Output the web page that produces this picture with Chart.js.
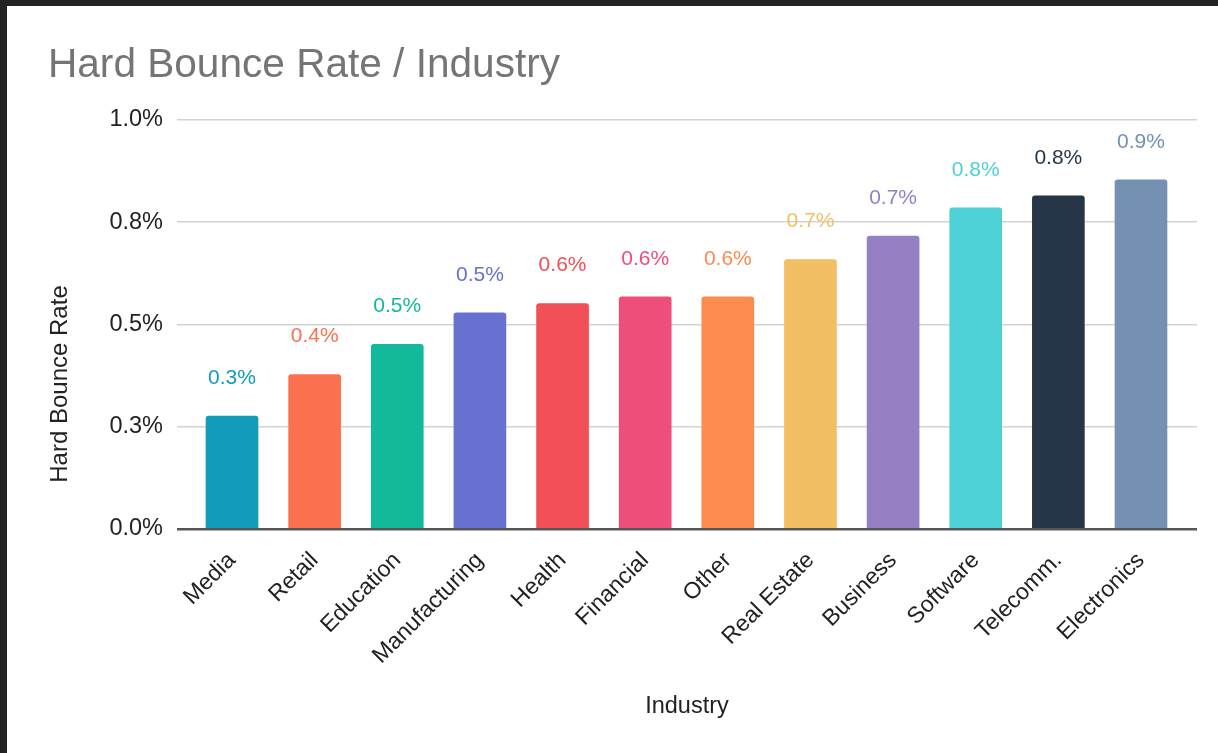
<!DOCTYPE html>
<html>
<head>
<meta charset="utf-8">
<script src="https://cdn.jsdelivr.net/npm/chart.js@4.4.1/dist/chart.umd.min.js"></script>
<style>
  html, body { margin: 0; padding: 0; background: #222222; width: 1218px; height: 753px; overflow: hidden; }
  #panel { position: absolute; left: 7px; top: 6px; width: 1211px; height: 747px; background: #ffffff; }
  #chart { display: block; }
</style>
</head>
<body>
<div id="panel"><canvas id="chart" width="1211" height="747"></canvas></div>
<script>
// Hard bounce rate (%) by industry
const industries = ['Media', 'Retail', 'Education', 'Manufacturing', 'Health', 'Financial',
                    'Other', 'Real Estate', 'Business', 'Software', 'Telecomm.', 'Electronics'];
const bounceRates = [0.276, 0.377, 0.451, 0.528, 0.551, 0.567, 0.567, 0.658, 0.716, 0.785, 0.814, 0.853];
const barColors = ['#129cbb', '#fb7150', '#13b99b', '#6771cf', '#f05056', '#ee4e7a',
                   '#fd8a4e', '#f3bf64', '#9580c4', '#4dd1d6', '#263548', '#7491b4'];
const yTickValues = [0, 0.25, 0.5, 0.75, 1.0];
const yTickLabels = ['0.0%', '0.3%', '0.5%', '0.8%', '1.0%'];

const FONT = '"Liberation Sans", Arial, Helvetica, sans-serif';

// Percentage labels above each bar, coloured like the bar
const valueLabels = {
  id: 'valueLabels',
  afterDatasetsDraw(chart) {
    const ctx = chart.ctx;
    const meta = chart.getDatasetMeta(0);
    ctx.save();
    ctx.font = '21px ' + FONT;
    ctx.textAlign = 'center';
    ctx.textBaseline = 'middle';
    meta.data.forEach((bar, i) => {
      ctx.fillStyle = barColors[i];
      ctx.fillText(bounceRates[i].toFixed(1) + '%', bar.x, bar.y - 38);
    });
    ctx.restore();
  }
};

// Vertical axis title, centred on the whole plot block
const yAxisTitle = {
  id: 'yAxisTitle',
  afterDraw(chart) {
    const ctx = chart.ctx;
    ctx.save();
    ctx.translate(53, 378);
    ctx.rotate(-Math.PI / 2);
    ctx.font = '24px ' + FONT;
    ctx.fillStyle = '#222222';
    ctx.textAlign = 'center';
    ctx.textBaseline = 'middle';
    ctx.fillText('Hard Bounce Rate', 0, 0);
    ctx.restore();
  }
};

new Chart(document.getElementById('chart'), {
  type: 'bar',
  data: {
    datasets: [{
      data: bounceRates.map((v, i) => ({ x: i, y: v })),
      backgroundColor: barColors,
      barThickness: 52,
      borderRadius: { topLeft: 3, topRight: 3, bottomLeft: 0, bottomRight: 0 },
      borderSkipped: 'start'
    }]
  },
  options: {
    responsive: false,
    animation: false,
    layout: { padding: { left: 41, right: 21, top: 0, bottom: 0 } },
    plugins: {
      legend: { display: false },
      tooltip: { enabled: false },
      title: {
        display: true,
        text: 'Hard Bounce Rate / Industry',
        align: 'start',
        color: '#757575',
        font: { family: FONT, size: 40.6, weight: 'normal', lineHeight: 1.2 },
        padding: { top: 35, bottom: 30 }
      }
    },
    scales: {
      x: {
        type: 'linear',
        offset: false,
        min: -0.6656,
        max: 11.6777,
        afterBuildTicks(scale) { scale.ticks = industries.map((_, i) => ({ value: i })); },
        afterFit(scale) { scale.height = 224; },
        grid: { display: false },
        border: { display: false },
        ticks: {
          autoSkip: false,
          minRotation: 45,
          maxRotation: 45,
          padding: 10,
          color: '#222222',
          font: { family: FONT, size: 23 },
          callback: (value) => industries[value]
        },
        title: {
          display: true,
          text: 'Industry',
          color: '#222222',
          font: { family: FONT, size: 23.5, lineHeight: 1.2 },
          padding: { top: 0, bottom: 32 }
        }
      },
      y: {
        min: 0,
        max: 1,
        afterBuildTicks(scale) { scale.ticks = yTickValues.map(v => ({ value: v })); },
        afterFit(scale) { scale.width = 129; },
        border: { display: false },
        grid: {
          drawTicks: false,
          color: (c) => c.tick && c.tick.value === 0 ? '#555555' : '#d3d3d3',
          lineWidth: (c) => c.tick && c.tick.value === 0 ? 2.5 : 1.5
        },
        ticks: {
          padding: 14,
          color: '#222222',
          font: { family: FONT, size: 23.5 },
          callback: (value, index) => yTickLabels[index]
        }
      }
    }
  },
  plugins: [valueLabels, yAxisTitle]
});
</script>
</body>
</html>
